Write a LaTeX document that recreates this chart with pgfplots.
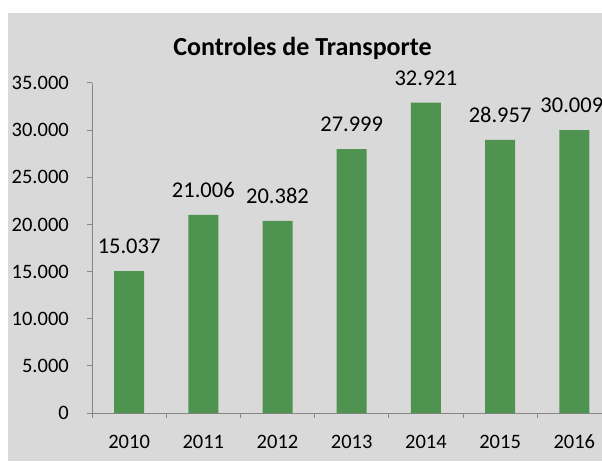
\documentclass[border=0pt]{standalone}
\usepackage{pgfplots}
\pgfplotsset{compat=1.18}
\usepackage{fontspec}
\setmainfont{Carlito}
\definecolor{bg}{HTML}{D9D9D9}
\definecolor{bargreen}{HTML}{4E9450}
\definecolor{axgray}{HTML}{868686}
\begin{document}
\begin{tikzpicture}[x=1pt,y=1pt]
\useasboundingbox (0,0) rectangle (602,461);
\clip (0,0) rectangle (602,461);
\fill[white] (0,0) rectangle (602,461);
\fill[bg] (8,0) rectangle (602,448);
\node[font=\fontsize{26}{30}\selectfont\bfseries, anchor=base, inner sep=0pt] at (302.5,405) {Controles de Transporte};
\begin{axis}[
  at={(92pt,48pt)}, anchor=south west,
  scale only axis, width=519.4pt, height=330pt,
  xmin=-0.5, xmax=6.5, ymin=0, ymax=35000,
  axis lines*=left,
  axis line style={draw=axgray, line width=1pt},
  ytick={0,5000,...,35000},
  xtick={0,...,6},
  xticklabels={2010,2011,2012,2013,2014,2015,2016},
  minor xtick={-0.5,0.5,...,6.5},
  tick align=outside,
  major tick length=5pt, minor tick length=5pt,
  tick style={draw=axgray, line width=1pt},
  major x tick style={draw=none},
  ticklabel style={font=\fontsize{20.5}{24}\selectfont},
  xticklabel style={anchor=base, inner sep=0pt, yshift=-30pt},
  yticklabel style={inner sep=0pt, xshift=-18pt},
  /pgf/number format/.cd, 1000 sep={.}, assume math mode=true,
  /pgfplots/.cd,
  scaled y ticks=false,
  ybar, bar width=30pt,
  visualization depends on={\thisrow{dx} \as \dx},
  nodes near coords={\pgfmathprintnumber[fixed,precision=0,1000 sep={.},assume math mode=true]{\pgfplotspointmeta}},
  every node near coord/.append style={font=\fontsize{22.5}{26}\selectfont, inner sep=0pt, yshift=17pt, xshift=\dx pt},
]
\addplot[fill=bargreen, draw=none] table[x=x, y=y] {
x y dx
0 15037 0
1 21006 0
2 20382 0
3 27999 0
4 32921 0
5 28957 0
6 30009 -2.5
};
\end{axis}
\end{tikzpicture}
\end{document}
